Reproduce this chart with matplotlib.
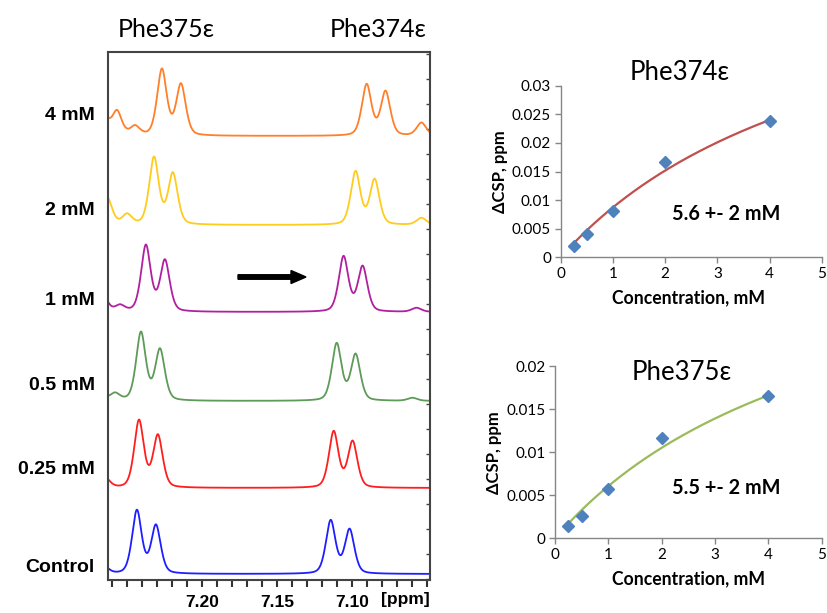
import numpy as np
import matplotlib
matplotlib.use("Agg")
import matplotlib.pyplot as plt
from matplotlib.patches import FancyArrow

# ---------------- data ----------------
# NMR traces (top to bottom): label, colour, baseline offset, peaks (ppm, height)
trace_labels = ["4 mM", "2 mM", "1 mM", "0.5 mM", "0.25 mM", "Control"]
trace_colors = ["#FF7F2A", "#FFCC1E", "#B0209F", "#5E9A58", "#FF1E1E", "#1E1EFF"]
trace_offsets = [444, 355, 268, 179, 92, 6]
peaks_4mM = [(7.2655, 18), (7.257, 24), (7.245, 9), (7.2270, 66), (7.2143, 51),
             (7.0903, 51), (7.0777, 44), (7.0537, 13)]
peaks_2mM = [(7.2635, 27), (7.2503, 10), (7.2323, 67), (7.2197, 51),
             (7.0977, 53), (7.0850, 45), (7.0537, 7)]
peaks_1mM = [(7.2670, 20), (7.2550, 6), (7.2377, 66), (7.2250, 51),
             (7.1057, 55), (7.0930, 45), (7.0570, 4)]
peaks_05mM = [(7.2700, 14), (7.2583, 7), (7.2410, 68), (7.2283, 51),
              (7.1103, 57), (7.0977, 46), (7.0597, 3)]
peaks_025mM = [(7.2650, 10), (7.2423, 67), (7.2297, 52),
               (7.1123, 56), (7.0997, 46)]
peaks_control = [(7.2660, 8), (7.2437, 63), (7.2310, 48),
                 (7.1143, 53), (7.1017, 44)]
trace_peaks = [peaks_4mM, peaks_2mM, peaks_1mM, peaks_05mM, peaks_025mM, peaks_control]
peak_sigma = 0.0034      # Gaussian part of the line shape
peak_hwhm = 0.0033       # Lorentzian part of the line shape
peak_gauss_frac = 0.6
ppm_left, ppm_right = 7.263, 7.048
ppm_tick_labels = {7.20: "7.20", 7.15: "7.15", 7.10: "7.10"}

# Titration data
conc = [0.25, 0.5, 1, 2, 4]
csp_374 = [0.0020, 0.0040, 0.0081, 0.0167, 0.0238]
csp_375 = [0.0014, 0.0026, 0.0057, 0.0116, 0.0165]
kd_374, dmax_374 = 5.6, 0.0576
kd_375, dmax_375 = 5.5, 0.0394

# ---------------- figure ----------------
W, H = 827, 613
fig = plt.figure(figsize=(W / 100, H / 100), dpi=100)
FONT = ["Lato", "DejaVu Sans"]
BOLD = ["Liberation Sans", "DejaVu Sans"]


def fx(px):
    return px / W


def fy(py):
    return 1 - py / H


def rect(x0, y0, x1, y1):
    return [fx(x0), fy(y1), fx(x1) - fx(x0), fy(y0) - fy(y1)]


# ---- spectra panel ----
ax = fig.add_axes(rect(108, 52, 430, 580))
ppm = np.linspace(ppm_left, ppm_right, 1200)
for color, off, pk in zip(trace_colors, trace_offsets, trace_peaks):
    y = np.zeros_like(ppm)
    for p, h in pk:
        g = np.exp(-0.5 * ((ppm - p) / peak_sigma) ** 2)
        l = 1 / (1 + ((ppm - p) / peak_hwhm) ** 2)
        y += h * (peak_gauss_frac * g + (1 - peak_gauss_frac) * l)
    ax.plot(ppm, y + off, color=color, lw=1.3)
ax.set_xlim(ppm_left, ppm_right)
ax.set_ylim(0, 528)
ticks = np.round(np.arange(7.26, 7.045, -0.01), 2)
ax.set_xticks(ticks)
ax.set_xticklabels([ppm_tick_labels.get(float(t), "") for t in ticks],
                   fontsize=12.5, fontweight="bold", family=BOLD)
ax.tick_params(axis="x", direction="out", length=5, width=1.5, color="#333333", pad=6)
ax.yaxis.set_ticks_position("right")
ax.set_yticks(np.arange(1, 528, 25))
ax.set_yticklabels([])
ax.tick_params(axis="y", direction="in", length=3, width=1, color="#444444")
for s in ax.spines.values():
    s.set_color("#444444")
    s.set_linewidth(1.5)
fig.text(fx(405), fy(604), "[ppm]", fontsize=12.5, fontweight="bold",
         family=BOLD, ha="center", va="baseline")

label_y = [116, 210, 300, 385, 470, 567]
for lab, py in zip(trace_labels, label_y):
    fig.text(fx(95), fy(py), lab, fontsize=14, fontweight="bold",
             family=BOLD, ha="right", va="center")

fig.text(fx(166), fy(37), "Phe375ε", fontsize=18, family=FONT, ha="center", va="baseline")
fig.text(fx(378), fy(37), "Phe374ε", fontsize=18, family=FONT, ha="center", va="baseline")

# arrow
fig.patches.append(FancyArrow(fx(238), fy(277), fx(306) - fx(238), 0, width=4.5 / H,
                              head_width=13 / H, head_length=15 / W,
                              length_includes_head=True, color="black",
                              transform=fig.transFigure, figure=fig))


# ---- titration panels ----
def titration(rect_px, yvals, kd, dmax, ymax, ystep, color, title, title_px, note, note_px,
              xlabel_py):
    a = fig.add_axes(rect(*rect_px))
    xs = np.linspace(min(conc), max(conc), 200)
    a.plot(xs, dmax * xs / (kd + xs), color=color, lw=1.6, zorder=2)
    a.plot(conc, yvals, linestyle="none", marker="D", markersize=6.5,
           color="#4F81BD", zorder=3)
    a.set_xlim(0, 5)
    a.set_ylim(0, ymax)
    a.set_xticks(range(0, 6))
    yt = np.round(np.arange(0, ymax + 1e-9, ystep), 4)
    a.set_yticks(yt)
    a.set_yticklabels([("%g" % v) for v in yt])
    for lab in a.get_xticklabels() + a.get_yticklabels():
        lab.set_family(FONT)
        lab.set_fontsize(11)
    a.tick_params(axis="both", direction="out", length=4, width=1, color="#868686")
    a.tick_params(axis="x", pad=3)
    a.tick_params(axis="y", pad=3)
    for s in ["top", "right"]:
        a.spines[s].set_visible(False)
    for s in ["left", "bottom"]:
        a.spines[s].set_color("#868686")
        a.spines[s].set_linewidth(1)
    a.set_ylabel("ΔCSP, ppm", fontsize=12, fontweight="bold", family=FONT, labelpad=3)
    fig.text(fx(689), fy(xlabel_py), "Concentration, mM", fontsize=12.7, fontweight="bold",
             family=FONT, ha="center", va="center")
    fig.text(fx(title_px[0]), fy(title_px[1]), title, fontsize=18.5, family=FONT,
             ha="center", va="baseline")
    fig.text(fx(note_px[0]), fy(note_px[1]), note, fontsize=14.3, fontweight="bold",
             family=FONT, ha="center", va="center")
    return a


titration((560.7, 85.7, 821.7, 257.3), csp_374, kd_374, dmax_374, 0.03, 0.005,
          "#C0504D", "Phe374ε", (680, 80), "5.6 +- 2 mM", (726, 214), 298)
titration((555, 366, 821.7, 538.3), csp_375, kd_375, dmax_375, 0.02, 0.005,
          "#9BBB59", "Phe375ε", (682, 380), "5.5 +- 2 mM", (726, 488), 579)

fig.savefig("out.png", dpi=100)
